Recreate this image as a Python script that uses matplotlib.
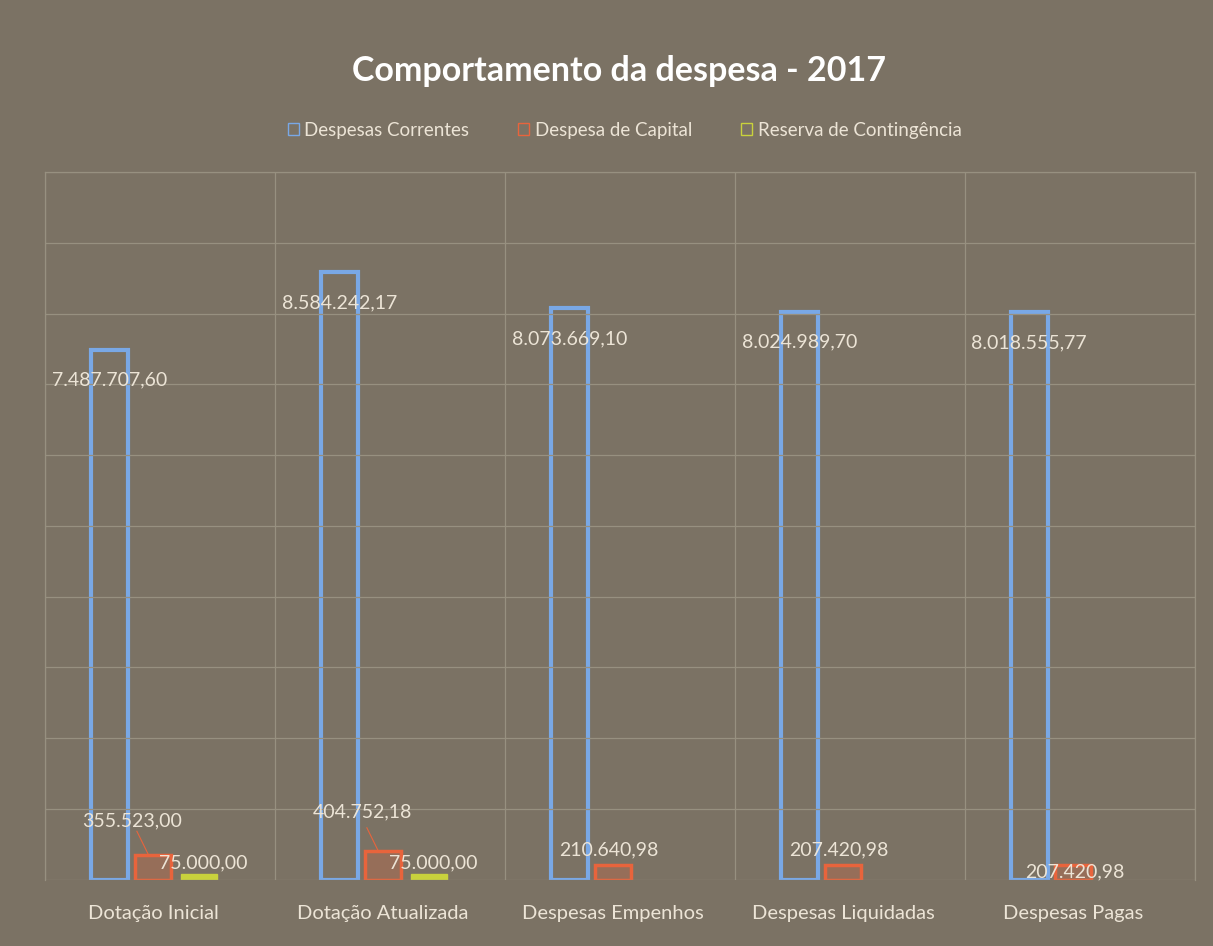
import matplotlib
matplotlib.use("Agg")
import matplotlib.pyplot as plt
from matplotlib.patches import Patch
import numpy as np

plt.rcParams['font.family'] = ['Lato', 'DejaVu Sans']

categorias = ['Dotação Inicial', 'Dotação Atualizada', 'Despesas Empenhos',
              'Despesas Liquidadas', 'Despesas Pagas']
correntes = [7487707.60, 8584242.17, 8073669.10, 8024989.70, 8018555.77]
capital = [355523.00, 404752.18, 210640.98, 207420.98, 207420.98]
reserva = [75000.00, 75000.00, 0, 0, 0]

series = ['Despesas Correntes', 'Despesa de Capital', 'Reserva de Contingência']


def fmt(v):
    # formato brasileiro 1.234.567,89
    s = f"{v:,.2f}"
    return s.replace(',', 'X').replace('.', ',').replace('X', '.')


fundo = '#7b7264'
grade = '#979080'
texto = '#ece4d6'
azul = '#79a8e6'
laranja = '#e8643c'
amarelo = '#c9d23c'

fig = plt.figure(figsize=(12.13, 9.46), dpi=100, facecolor=fundo)
ax = fig.add_axes([0.037, 0.07, 0.948, 0.748], facecolor=fundo)

x = np.arange(len(categorias))
w = 0.16
ax.bar(x - 0.22, correntes, w, facecolor='none', edgecolor=azul, linewidth=3)
ax.bar(x - 0.03, capital, w, facecolor=laranja + '40', edgecolor=laranja, linewidth=2.5)
tem_reserva = [i for i in range(len(reserva)) if reserva[i] > 0]
ax.bar(x[tem_reserva] + 0.17, [reserva[i] for i in tem_reserva], w,
       facecolor=amarelo, edgecolor=amarelo, linewidth=1)

fs = 14
# rótulos
for i in range(len(categorias)):
    ax.text(x[i] - 0.22, correntes[i] - 430000, fmt(correntes[i]), ha='center', va='center',
            color=texto, fontsize=fs)
for i in range(len(categorias)):
    if i < 2:
        ax.text(x[i] - 0.12, capital[i] + 480000 + (i * 80000), fmt(capital[i]), ha='center',
                va='center', color=texto, fontsize=fs)
        ax.plot([x[i] - 0.1, x[i] - 0.05], [capital[i] + 330000, capital[i]], color=laranja, lw=0.8)
    elif i < 4:
        ax.text(x[i] - 0.05, capital[i] + 210000, fmt(capital[i]), ha='center', va='center',
                color=texto, fontsize=fs)
    else:
        ax.text(x[i] - 0.02, capital[i] - 100000, fmt(capital[i]), ha='center', va='center',
                color=texto, fontsize=fs)
for i in tem_reserva:
    ax.text(x[i] + 0.19, reserva[i] + 170000, fmt(reserva[i]), ha='center', va='center',
            color=texto, fontsize=fs)

ax.set_xlim(-0.5, len(categorias) - 0.5)
ax.set_ylim(0, 10000000)
ax.set_yticks(np.arange(0, 10000001, 1000000))
ax.set_xticks(np.arange(-0.5, len(categorias), 1.0), minor=False)
ax.set_xticklabels([])
ax.grid(True, color=grade, linewidth=0.9)
ax.tick_params(length=0, labelleft=False)
for sp in ax.spines.values():
    sp.set_color(grade)
    sp.set_linewidth(0.9)
ax.spines['bottom'].set_visible(False)

for i, c in enumerate(categorias):
    ax.text(x[i] - 0.03, -470000, c, ha='center', va='center', color=texto, fontsize=14.5)

fig.text(0.51, 0.925, 'Comportamento da despesa - 2017', ha='center', va='center',
         color='white', fontsize=24.5, fontweight='bold')

handles = [Patch(facecolor='none', edgecolor=azul, linewidth=1),
           Patch(facecolor='none', edgecolor=laranja, linewidth=1),
           Patch(facecolor='none', edgecolor=amarelo, linewidth=1)]
leg = fig.legend(handles, series, loc='center', bbox_to_anchor=(0.515, 0.862), ncol=3,
                 frameon=False, fontsize=13.5, handlelength=0.6, handleheight=0.6,
                 handletextpad=0.3, columnspacing=2.6)
for t in leg.get_texts():
    t.set_color(texto)

fig.savefig('out.png', dpi=100, facecolor=fundo)
